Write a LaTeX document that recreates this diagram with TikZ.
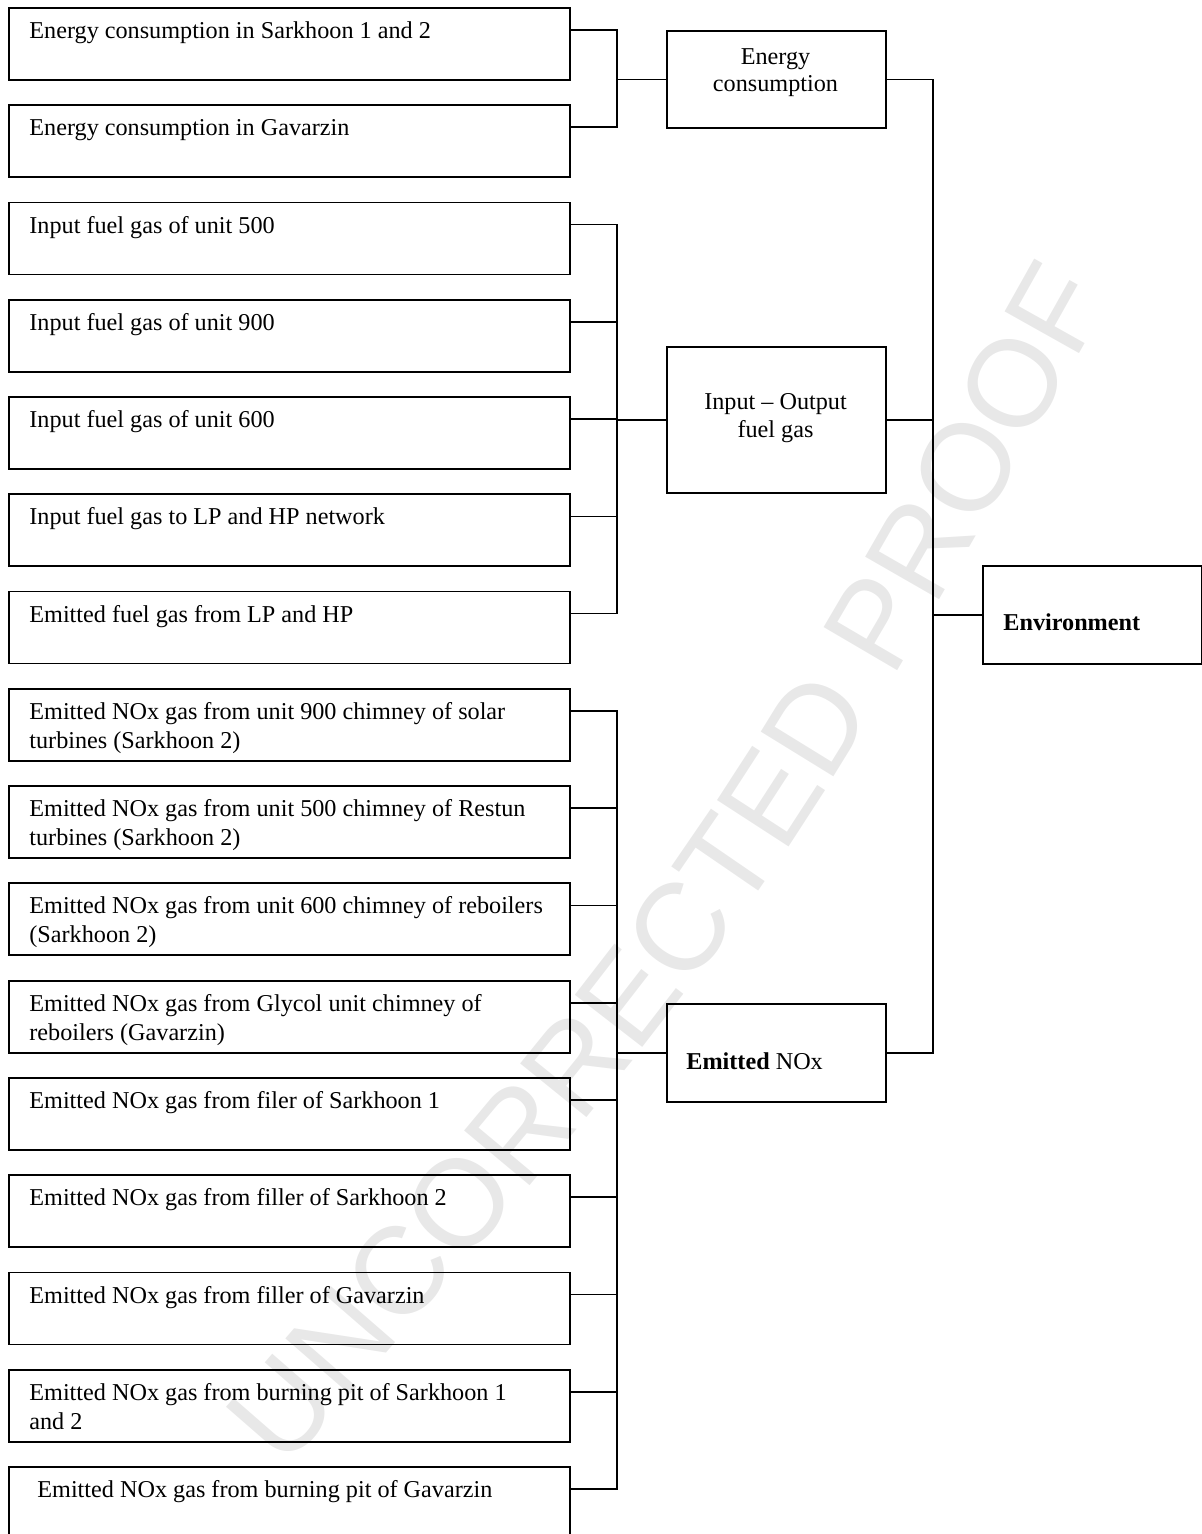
\documentclass[tikz,border=0pt]{standalone}
\usepackage{fontspec}
\setmainfont{Liberation Serif}
\newfontfamily\markfont{Liberation Sans}
\usepackage{tikz}
\usetikzlibrary{decorations.text}

\begin{document}
\begin{tikzpicture}[x=0.5pt,y=-0.5pt,
  srcbox/.style={draw,line width=0.9pt,inner sep=0pt,minimum width=280.5pt,minimum height=36pt,anchor=north west},
  sumbox/.style={draw,line width=0.9pt,inner sep=0pt,minimum width=109.5pt,anchor=north west},
  boxtext/.style={inner sep=0pt,align=left,anchor=north west,font=\fontsize{12.1}{14.5}\selectfont},
  midtext/.style={inner sep=0pt,align=center,font=\fontsize{12.1}{13.6}\selectfont},
  link/.style={line width=0.8pt},
  watermark/.style={decorate,decoration={text along path,text align=center,
    text={|\markfont\fontsize{62}{70}\selectfont\color{black!9}|UNCORRECTED PROOF}}}]
  \useasboundingbox (0,0) rectangle (1202,1534);
  \path[watermark] (245,1515) .. controls (758,927) .. (1140,245);

  \foreach \n/\dx/\txt in {
    1/29/{Energy consumption in Sarkhoon 1 and 2},
    2/29/{Energy consumption in Gavarzin},
    3/29/{Input fuel gas of unit 500},
    4/29/{Input fuel gas of unit 900},
    5/29/{Input fuel gas of unit 600},
    6/29/{Input fuel gas to LP and HP network},
    7/29/{Emitted fuel gas from LP and HP},
    8/29/{Emitted NOx gas from unit 900 chimney of solar\\turbines (Sarkhoon 2)},
    9/29/{Emitted NOx gas from unit 500 chimney of Restun\\turbines (Sarkhoon 2)},
    10/29/{Emitted NOx gas from unit 600 chimney of reboilers\\(Sarkhoon 2)},
    11/29/{Emitted NOx gas from Glycol unit chimney of\\reboilers (Gavarzin)},
    12/29/{Emitted NOx gas from filer of Sarkhoon 1},
    13/29/{Emitted NOx gas from filler of Sarkhoon 2},
    14/29/{Emitted NOx gas from filler of Gavarzin},
    15/29/{Emitted NOx gas from burning pit of Sarkhoon 1\\and 2},
    16/37/{Emitted NOx gas from burning pit of Gavarzin}}{
    \pgfmathsetmacro{\boxtop}{7+97.27*(\n-1)}
    \node[srcbox] (b\n) at (8,\boxtop) {};
    \node[boxtext] (t\n) at (\dx,\boxtop+10.8) {\strut\txt};
    \coordinate (o\n) at (569,\boxtop+23);
  }

  \node[sumbox,minimum height=48.5pt] (ec) at (666,30) {};
  \node[sumbox,minimum height=73pt] (io) at (666,346) {};
  \node[sumbox,minimum height=49pt] (en) at (666,1003) {};
  \node[sumbox,minimum height=49pt] (env) at (982,565) {};
  \node[midtext] (tec) at (775.5,73) {Energy\\consumption};
  \node[midtext] (tio) at (775.5,418) {Input \textendash{} Output\\fuel gas};
  \node[boxtext,anchor=west] (ten) at (686,1061) {\textbf{Emitted} NOx};
  \node[boxtext,anchor=west] (tenv) at (1003,622) {\textbf{Environment}};

  \coordinate (busA) at (617,0);
  \coordinate (busB) at (933,0);
  \draw[link] (o1) -| (o2 -| busA) -- (o2);
  \draw[link] (ec.west) -- (ec.west -| busA);
  \draw[link] (o3) -| (o7 -| busA) -- (o7);
  \foreach \n in {4,5,6} \draw[link] (o\n) -- (o\n -| busA);
  \draw[link] (io.west) -- (io.west -| busA);
  \draw[link] (o8) -| (o16 -| busA) -- (o16);
  \foreach \n in {9,...,15} \draw[link] (o\n) -- (o\n -| busA);
  \draw[link] (en.west) -- (en.west -| busA);
  \draw[link] (ec.east) -| (en.east -| busB) -- (en.east);
  \draw[link] (io.east) -- (io.east -| busB);
  \draw[link] (env.west) -- (env.west -| busB);
\end{tikzpicture}
\end{document}
